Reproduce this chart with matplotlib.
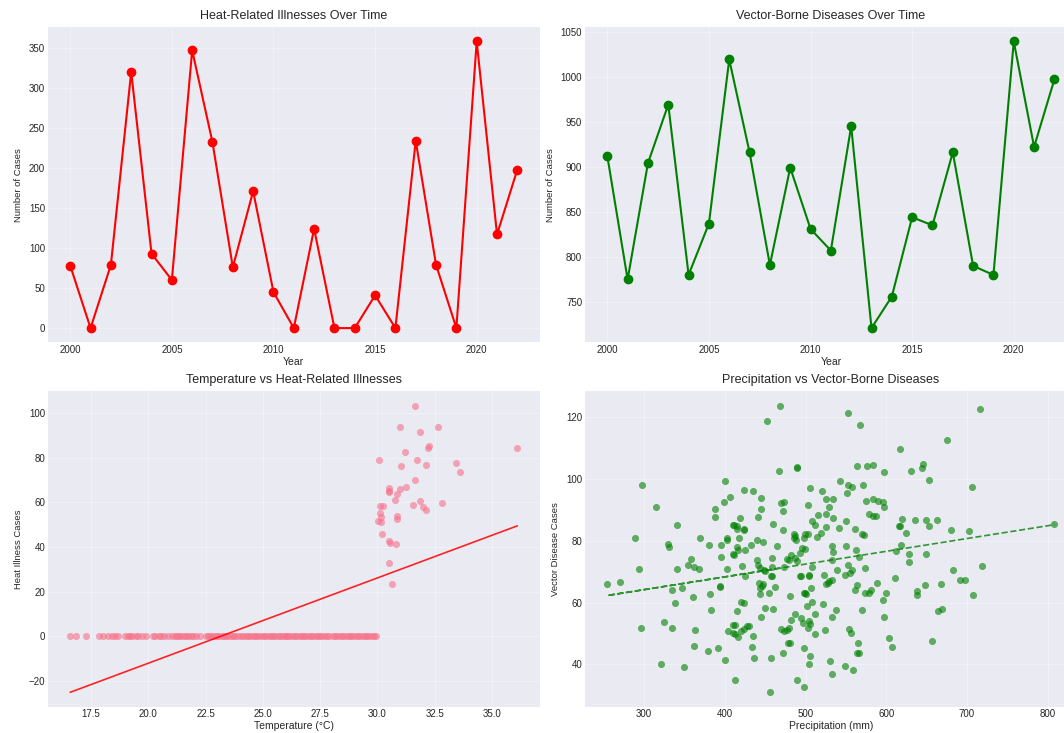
import numpy as np
import matplotlib
matplotlib.use('Agg')
import matplotlib.pyplot as plt

plt.style.use('seaborn-v0_8-darkgrid')

# yearly series
years = list(range(2000, 2023))
heat_cases = [78, 0, 79, 320, 93, 60, 347, 232, 76, 171, 45, 0, 124, 0, 0, 41, 0, 234, 79, 0, 358, 117, 198]
vector_cases = [912, 775, 904, 969, 780, 837, 1019, 916, 791, 899, 831, 807, 945, 721, 756, 844, 835, 916, 790, 780, 1039, 922, 997]

# daily temperature vs heat illness (days with zero cases)
zero_temps = [16.6, 16.85, 17.3, 17.85, 18.05, 18.25, 18.4, 18.55, 18.7,
              19.0, 19.1, 19.2, 19.3, 19.45, 19.55, 19.75, 19.9,
              20.2, 20.3, 20.45, 20.55, 20.7, 20.85,
              21.05, 21.15, 21.25, 21.35, 21.45, 21.55, 21.65, 21.75, 21.85, 21.95, 22.1, 22.25,
              22.5, 22.6, 22.7, 22.8, 22.9, 23.0, 23.1, 23.2, 23.3, 23.4, 23.5, 23.6, 23.7, 23.8, 23.9,
              24.05, 24.15, 24.25, 24.35, 24.45, 24.55, 24.65, 24.75, 24.85, 24.95,
              25.05, 25.15, 25.25, 25.35, 25.45, 25.55, 25.65, 25.75, 25.85, 25.95,
              26.0, 26.1, 26.2, 26.3, 26.4, 26.5, 26.6, 26.7, 26.8, 26.9,
              27.0, 27.1, 27.2, 27.3, 27.4, 27.5, 27.6, 27.7, 27.8, 27.9,
              28.05, 28.15, 28.25, 28.35, 28.45, 28.55, 28.65, 28.75, 28.85, 28.95,
              29.05, 29.15, 29.25, 29.35, 29.45, 29.55, 29.65, 29.75, 29.85, 29.95]
# days with cases
hot_temps = [31.64, 30.98, 32.63, 31.87, 32.23, 32.2, 36.1, 30.06, 31.74, 31.19, 31.03, 32.13,
             33.43, 33.6, 31.64, 31.24, 30.98, 30.49, 30.49, 30.49, 30.83, 30.77, 31.87, 32.81,
             31.56, 31.97, 32.11, 30.09, 30.26, 30.12, 30.17, 30.84, 30.87, 30.03, 30.17, 30.2,
             30.52, 30.55, 30.81, 30.52, 30.64]
hot_cases = [103.3, 93.7, 93.7, 91.4, 85.4, 84.4, 84.5, 79, 79, 82.6, 76.3, 76.6,
             77.7, 73.4, 70.2, 66.7, 66.1, 66.4, 65.2, 64.7, 63.7, 61, 60.5, 59.9,
             58.8, 58, 56.8, 58.6, 58.3, 55.2, 53.4, 54.1, 52.7, 51.8, 51, 45.7,
             42.5, 41.9, 41.5, 32.9, 23.3]
heat_trend = (3.82, -88.4)  # slope, intercept

# precipitation vs vector-borne cases
precip = [468.5, 452, 553, 567.6, 715.5, 675.6, 617.3, 467.7, 489.5, 489.5, 564, 575.7, 584, 597,
          630.5, 645, 644, 653, 706, 297, 400.3, 542.5, 552.5, 557.6, 571.4, 505.6, 520.6, 424.4,
          435.5, 406.3, 399.4, 445, 387.4, 388.3, 314.6, 469, 502.9, 524.8, 534.6, 529.5, 551,
          574.8, 583.4, 589.4, 596.2, 597.6, 578, 583.4, 587.7, 515.9, 525.4, 534.4, 550.7, 541.3,
          525.4, 508.6, 511.6, 518.9, 513.7, 472.4, 472.8, 444.6, 441.6, 418.4, 423.2, 411.2,
          414.6, 410.3, 459.1, 472.4, 485.2, 487.4, 499.8, 486, 488.6, 561.5, 572.7, 620, 617,
          615.7, 624.5, 636, 649, 663, 653.2, 680.4, 702.3, 618.7, 612.3, 628.2, 628.2, 649.6,
          682.6, 691.6, 697.2, 719, 637.7, 638.6, 648, 667.7, 707.7, 610.4, 600.1, 589, 573.2,
          578.7, 581.3, 564.2, 561.7, 555.6, 557.3, 562.5, 566, 570.3, 574.2, 552.2, 549.2, 533,
          534.3, 532.6, 550.2, 538.4, 523.4, 525.1, 527.7, 529.4, 532.4, 521.7, 538, 533.3,
          507.6, 504.2, 493.5, 506.7, 498.6, 500.7, 499, 495.1, 493.4, 489.5, 486.5, 477.6,
          479.3, 473.3, 497.8, 503, 481.9, 465.2, 458.3, 439.5, 441.2, 443.7, 448, 449.8, 458.3,
          457.9, 439.5, 446.8, 431.9, 425.4, 414.7, 403.1, 402.2, 395.8, 411.6, 416.8, 415.5,
          418.1, 424.1, 410.2, 421.5, 425, 395.4, 402.2, 380.6, 369.9, 357.9, 361.7, 368.6, 355,
          340.3, 329.2, 330.5, 340.7, 288.4, 294, 254.5, 270.4, 335.2, 347.6, 360.5, 338.2,
          394.3, 394.3, 381.5, 325.3, 335.2, 296.6, 363, 382.3, 415.3, 420, 424.4, 443.6, 446.2,
          441.9, 447.9, 443.6, 454.3, 461.6, 457.8, 450.1, 459.5, 444.5, 486.5, 480.9, 481.4,
          494.3, 496.3, 503.9, 503, 505, 512.2, 511.7, 523.6, 502.1, 508.6, 499.4, 493.8, 504.9,
          470.1, 473.5, 476.9, 479.5, 471.8, 478.6, 480.8, 457.8, 435.9, 434.2, 435.5, 427.9,
          430.3, 420.6, 423.6, 410.2, 413.2, 409.8, 413.2, 416.7, 403.6, 400.2, 392, 379.4,
          362.2, 320.6, 349.7, 412.8, 456.1, 489.1, 498.1, 498.1, 504.2, 505, 530.8, 532.9,
          549.2, 558.6, 553.9, 556.5, 565.5, 564.2, 566.4, 569.3, 597.4, 595.6, 603.4, 607.6,
          664.4, 668.7, 656.3, 808.2]
vector_daily = [123.8, 118.7, 121.4, 117.6, 122.7, 112.7, 109.7, 102.5, 104, 103.5, 104.2, 104.2,
                104.6, 102.3, 102.5, 105, 103.5, 99.7, 97.6, 98, 99.5, 99.3, 98.1, 97.6, 98.2, 97.1,
                96.2, 96.6, 96.2, 94.2, 92.5, 94, 90.2, 87.7, 91, 92.3, 91.6, 93.6, 93.6, 91, 95.5,
                92.9, 93.5, 92.8, 92.5, 90.9, 88.6, 88, 88.1, 88.5, 88.7, 87.3, 86.5, 84.3, 84.4,
                86.5, 85.1, 82.6, 81.3, 89.6, 92.7, 90.2, 87.7, 87.5, 84, 85.3, 84.9, 85.1, 85.5,
                83.4, 82.2, 81.6, 82.2, 80.8, 80.3, 83.9, 82, 87.1, 84.9, 84.9, 82.7, 86.7, 86.8,
                86.8, 84.9, 83.4, 83.3, 78.7, 76.9, 75.7, 73.3, 75.7, 70.5, 67.2, 67.2, 72, 63.7,
                62.6, 65.6, 66.1, 62.6, 67.9, 63.2, 66.3, 63.3, 63.3, 64.2, 65.6, 64.2, 69.6, 70.5,
                77, 74.7, 82.2, 71.2, 72.2, 69, 73.9, 76.3, 78.5, 78.5, 70.6, 68.9, 66.1, 66.4,
                67.1, 67.4, 59.5, 57.6, 55.4, 71.7, 68.9, 68.5, 64.8, 63.1, 62.9, 77.5, 77.7, 76.2,
                73.6, 74.4, 74.3, 73.9, 71.7, 80.8, 82.2, 75.3, 78.5, 74.5, 73.9, 72.3, 71.3, 70.7,
                70.4, 71.7, 68.5, 80.2, 79.6, 78.6, 77.2, 78.1, 81.1, 80.2, 78.7, 75.4, 77.1, 83.9,
                80.9, 83.6, 75.9, 72, 68.8, 74.8, 70.8, 78.6, 80.8, 74.3, 71.4, 70.9, 72.3, 85.1, 79,
                77.9, 71, 80.9, 71, 66.2, 66.7, 64, 64.8, 61.9, 59.8, 65.5, 65, 62.9, 53.7, 51.9,
                51.9, 51.2, 57.5, 57.4, 60.3, 59.9, 64.8, 65.3, 66.5, 65.9, 62.9, 63.2, 65.1, 68.5,
                58.4, 58, 55.3, 56.4, 62.3, 54.3, 54.9, 53.5, 54.2, 51.9, 53.2, 56.3, 50, 51.1, 59,
                60.3, 63, 68.5, 68.8, 51.6, 50.8, 51.1, 51.9, 43.7, 47, 47, 42.2, 42.1, 45.5, 49.2,
                52.4, 52.5, 51, 51.5, 52.9, 52.9, 50.2, 49.9, 49, 50.8, 41.6, 45.4, 44.3, 46, 40,
                39.1, 35.1, 31, 35, 32.6, 45.3, 40.3, 42.6, 41.2, 37, 39.6, 38.2, 51.5, 50.3, 46.8,
                43.6, 43.6, 57.6, 55.3, 61, 48.6, 45.5, 57.3, 57.8, 47.5, 85.4]
vector_trend = (0.0414, 51.8)

fig, axs = plt.subplots(2, 2, figsize=(10.64, 7.33), dpi=100)
fig.subplots_adjust(left=0.045, right=1.012, top=0.963, bottom=0.036, wspace=0.092, hspace=0.155)

tfs, xfs, yfs, kfs = 9, 7.5, 6.8, 7

#1 heat over time
ax = axs[0, 0]
ax.plot(years, heat_cases, marker='o', color='red', linewidth=1.5, markersize=6)
ax.set_title('Heat-Related Illnesses Over Time', fontsize=tfs)
ax.set_xlabel('Year', fontsize=xfs, labelpad=1)
ax.set_ylabel('Number of Cases', fontsize=yfs)

#2 vector over time
ax = axs[0, 1]
ax.plot(years, vector_cases, marker='o', color='green', linewidth=1.5, markersize=6)
ax.set_title('Vector-Borne Diseases Over Time', fontsize=tfs)
ax.set_xlabel('Year', fontsize=xfs, labelpad=1)
ax.set_ylabel('Number of Cases', fontsize=yfs)

#3 temperature scatter
ax = axs[1, 0]
temps = zero_temps + hot_temps
cases = [0] * len(zero_temps) + hot_cases
ax.scatter(temps, cases, color='#f77189', alpha=0.6, s=26, linewidths=0)
tline = np.array([min(temps), max(temps)])
ax.plot(tline, heat_trend[0] * tline + heat_trend[1], color='red', alpha=0.85, linewidth=1.2)
ax.set_title('Temperature vs Heat-Related Illnesses', fontsize=tfs)
ax.set_xlabel('Temperature (°C)', fontsize=xfs, labelpad=1)
ax.set_ylabel('Heat Illness Cases', fontsize=yfs)

#4 precipitation scatter
ax = axs[1, 1]
ax.scatter(precip, vector_daily, color='green', alpha=0.6, s=26, linewidths=0)
px = np.array(precip)
ax.plot(px, vector_trend[0] * px + vector_trend[1], '--', color='green', alpha=0.8, linewidth=1.2)
ax.set_title('Precipitation vs Vector-Borne Diseases', fontsize=tfs)
ax.set_xlabel('Precipitation (mm)', fontsize=xfs, labelpad=1)
ax.set_ylabel('Vector Disease Cases', fontsize=yfs)

for a in axs.flat:
    a.tick_params(labelsize=kfs, pad=2)
    a.grid(True, alpha=0.3)

plt.savefig('out.png', format='png')
